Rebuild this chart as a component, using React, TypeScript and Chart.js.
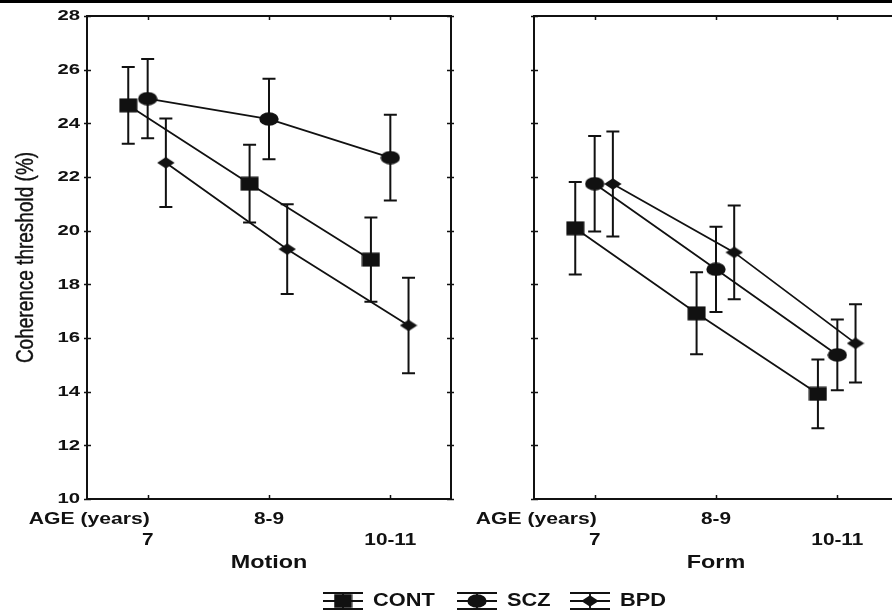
import React, { useEffect, useRef } from 'react';
import { Chart, registerables } from 'chart.js';

Chart.register(...registerables);

// ---------- data ----------
const AGE_GROUPS = ['7', '8-9', '10-11'];
const Y_TICKS = [10, 12, 14, 16, 18, 20, 22, 24, 26, 28];
const GROUPS = ['CONT', 'SCZ', 'BPD'];

const MOTION_CONT = [24.67, 21.75, 18.92];
const MOTION_CONT_ERR = [1.43, 1.45, 1.57];
const MOTION_SCZ = [24.92, 24.16, 22.72];
const MOTION_SCZ_ERR = [1.48, 1.5, 1.6];
const MOTION_BPD = [22.53, 19.31, 16.47];
const MOTION_BPD_ERR = [1.65, 1.67, 1.78];

const FORM_CONT = [20.09, 16.92, 13.92];
const FORM_CONT_ERR = [1.72, 1.53, 1.28];
const FORM_SCZ = [21.75, 18.56, 15.37];
const FORM_SCZ_ERR = [1.78, 1.59, 1.32];
const FORM_BPD = [21.74, 19.19, 15.8];
const FORM_BPD_ERR = [1.96, 1.75, 1.46];

// ---------- style ----------
const FONT = '"Liberation Sans", Arial, sans-serif';
const INK = '#111';
const GROUP_SHIFT = [-0.16, 0, 0.15];
const MARKER_KIND = ['square', 'circle', 'diamond'];

function makeMarker(kind: string): HTMLCanvasElement {
  const c = document.createElement('canvas');
  let w = 19, h = 15;
  if (kind === 'circle') { w = 20; h = 14; }
  if (kind === 'diamond') { w = 18; h = 12; }
  c.width = w; c.height = h;
  const g = c.getContext('2d')!;
  g.fillStyle = INK;
  g.beginPath();
  if (kind === 'square') {
    g.rect(0.5, 0.5, w - 1, h - 1);
  } else if (kind === 'circle') {
    g.ellipse(w / 2, h / 2, w / 2 - 0.3, h / 2 - 0.3, 0, 0, Math.PI * 2);
  } else {
    g.moveTo(w / 2, 0.3); g.lineTo(w - 0.3, h / 2); g.lineTo(w / 2, h - 0.3); g.lineTo(0.3, h / 2); g.closePath();
  }
  g.fill();
  return c;
}

function txt(ctx: CanvasRenderingContext2D, s: string, x: number, y: number, font: string, sx: number, align: CanvasTextAlign) {
  ctx.save();
  ctx.translate(x, y);
  ctx.scale(sx, 1);
  ctx.font = font;
  ctx.fillStyle = INK;
  ctx.textAlign = align;
  ctx.textBaseline = 'middle';
  ctx.fillText(s, 0, 0);
  ctx.restore();
}

function panelPlugin(title: string, leftPanel: boolean, markers: HTMLCanvasElement[]) {
  return {
    id: 'panel-' + title,
    beforeDatasetsDraw(chart: any) {
      const { ctx } = chart;
      const xs = chart.scales.x, ys = chart.scales.y;
      ctx.save();
      ctx.strokeStyle = INK;
      ctx.lineWidth = 2;
      chart.data.datasets.forEach((ds: any) => {
        ds.data.forEach((p: any, i: number) => {
          const e = ds.errors[i];
          const px = xs.getPixelForValue(p.x);
          const yt = ys.getPixelForValue(p.y + e);
          const yb = ys.getPixelForValue(p.y - e);
          ctx.beginPath();
          ctx.moveTo(px, yt); ctx.lineTo(px, yb);
          ctx.moveTo(px - 6.5, yt); ctx.lineTo(px + 6.5, yt);
          ctx.moveTo(px - 6.5, yb); ctx.lineTo(px + 6.5, yb);
          ctx.stroke();
        });
      });
      ctx.restore();
    },
    afterDraw(chart: any) {
      const { ctx, chartArea } = chart;
      const { left: L, right: R, top: T, bottom: B } = chartArea;
      const xs = chart.scales.x, ys = chart.scales.y;
      ctx.save();
      ctx.strokeStyle = INK;
      ctx.lineWidth = 2;
      ctx.strokeRect(L, T, R - L, B - T);
      ctx.lineWidth = 1.5;
      ctx.beginPath();
      Y_TICKS.forEach((v) => {
        const py = Math.round(ys.getPixelForValue(v)) + 0.5;
        ctx.moveTo(L - 3, py); ctx.lineTo(L + 4, py);
        ctx.moveTo(R - 4, py); ctx.lineTo(R + 3, py);
      });
      AGE_GROUPS.forEach((_, i) => {
        const px = Math.round(xs.getPixelForValue(i)) + 0.5;
        ctx.moveTo(px, T); ctx.lineTo(px, T + 4);
        ctx.moveTo(px, B); ctx.lineTo(px, B - 4);
      });
      ctx.stroke();
      ctx.restore();

      const tickFont = 'bold 16px ' + FONT;
      // x category labels, staggered in two rows
      AGE_GROUPS.forEach((lab, i) => {
        const px = xs.getPixelForValue(i);
        txt(ctx, lab, px, i % 2 === 0 ? 541 : 520, tickFont, 1.3, 'center');
      });
      txt(ctx, 'AGE (years)', xs.getPixelForValue(0) + 2, 520, tickFont, 1.32, 'right');
      txt(ctx, title, xs.getPixelForValue(1), 563, 'bold 18px ' + FONT, 1.3, 'center');

      if (leftPanel) {
        Y_TICKS.forEach((v) => {
          txt(ctx, String(v), L - 7, ys.getPixelForValue(v) + 0.5, 'bold 14px ' + FONT, 1.45, 'right');
        });
        // y-axis title
        ctx.save();
        ctx.translate(27, (T + B) / 2);
        ctx.rotate(-Math.PI / 2);
        ctx.scale(1, 1.22);
        ctx.font = '19px ' + FONT;
        ctx.fillStyle = INK;
        ctx.strokeStyle = INK;
        ctx.lineWidth = 0.35;
        ctx.textAlign = 'center';
        ctx.textBaseline = 'middle';
        ctx.fillText('Coherence threshold (%)', 0, 0);
        ctx.strokeText('Coherence threshold (%)', 0, 0);
        ctx.restore();

        // legend
        const cy = 601;
        const symX = [343, 477, 590];
        GROUPS.forEach((g, i) => {
          const cx = symX[i];
          ctx.save();
          ctx.strokeStyle = INK;
          ctx.lineWidth = 1.8;
          ctx.beginPath();
          ctx.moveTo(cx - 20, cy - 8); ctx.lineTo(cx + 20, cy - 8);
          ctx.moveTo(cx - 20, cy); ctx.lineTo(cx + 20, cy);
          ctx.moveTo(cx - 20, cy + 8); ctx.lineTo(cx + 20, cy + 8);
          ctx.moveTo(cx, cy - 8); ctx.lineTo(cx, cy + 8);
          ctx.stroke();
          const m = markers[i];
          ctx.drawImage(m, cx - m.width / 2, cy - m.height / 2);
          ctx.restore();
          txt(ctx, g, cx + 30, cy + 0.5, 'bold 18px ' + FONT, 1.21, 'left');
        });
      }
    },
  };
}

function buildDatasets(values: number[][], errors: number[][], markers: HTMLCanvasElement[]) {
  return GROUPS.map((g, gi) => ({
    label: g,
    data: values[gi].map((v, i) => ({ x: i + GROUP_SHIFT[gi], y: v })),
    errors: errors[gi],
    borderColor: INK,
    borderWidth: 1.8,
    backgroundColor: INK,
    pointStyle: markers[gi],
    pointRadius: 9,
    pointHoverRadius: 9,
    tension: 0,
    fill: false,
    clip: false,
  }));
}

function makeChart(canvas: HTMLCanvasElement, title: string, leftPanel: boolean, padding: any, values: number[][], errors: number[][]) {
  const markers = MARKER_KIND.map(makeMarker);
  return new Chart(canvas, {
    type: 'line',
    data: { datasets: buildDatasets(values, errors, markers) as any },
    options: {
      responsive: false,
      animation: false,
      events: [],
      layout: { padding },
      scales: {
        x: { type: 'linear', min: -0.5, max: AGE_GROUPS.length - 0.5, display: false },
        y: { type: 'linear', min: Y_TICKS[0], max: Y_TICKS[Y_TICKS.length - 1], display: false },
      },
      plugins: { legend: { display: false }, tooltip: { enabled: false } },
    },
    plugins: [panelPlugin(title, leftPanel, markers)],
  });
}

export default function App() {
  const leftRef = useRef<HTMLCanvasElement>(null);
  const rightRef = useRef<HTMLCanvasElement>(null);

  useEffect(() => {
    const c1 = makeChart(
      leftRef.current!, 'Motion', true,
      { left: 87, right: 892 - 451, top: 16, bottom: 615 - 499 },
      [MOTION_CONT, MOTION_SCZ, MOTION_BPD],
      [MOTION_CONT_ERR, MOTION_SCZ_ERR, MOTION_BPD_ERR],
    );
    const c2 = makeChart(
      rightRef.current!, 'Form', false,
      { left: 534 - 460, right: 460 - (898 - 460), top: 16, bottom: 615 - 499 },
      [FORM_CONT, FORM_SCZ, FORM_BPD],
      [FORM_CONT_ERR, FORM_SCZ_ERR, FORM_BPD_ERR],
    );
    return () => { c1.destroy(); c2.destroy(); };
  }, []);

  return (
    <div style={{ position: 'absolute', left: 0, top: 0, width: 892, height: 615, overflow: 'hidden', background: '#fff' }}>
      <div style={{ position: 'absolute', left: 0, top: 0, width: 892, height: 3, background: '#000' }} />
      <canvas ref={leftRef} width={892} height={615} style={{ position: 'absolute', left: 0, top: 0, width: 892, height: 615 }} />
      <canvas ref={rightRef} width={460} height={615} style={{ position: 'absolute', left: 460, top: 0, width: 460, height: 615 }} />
    </div>
  );
}
